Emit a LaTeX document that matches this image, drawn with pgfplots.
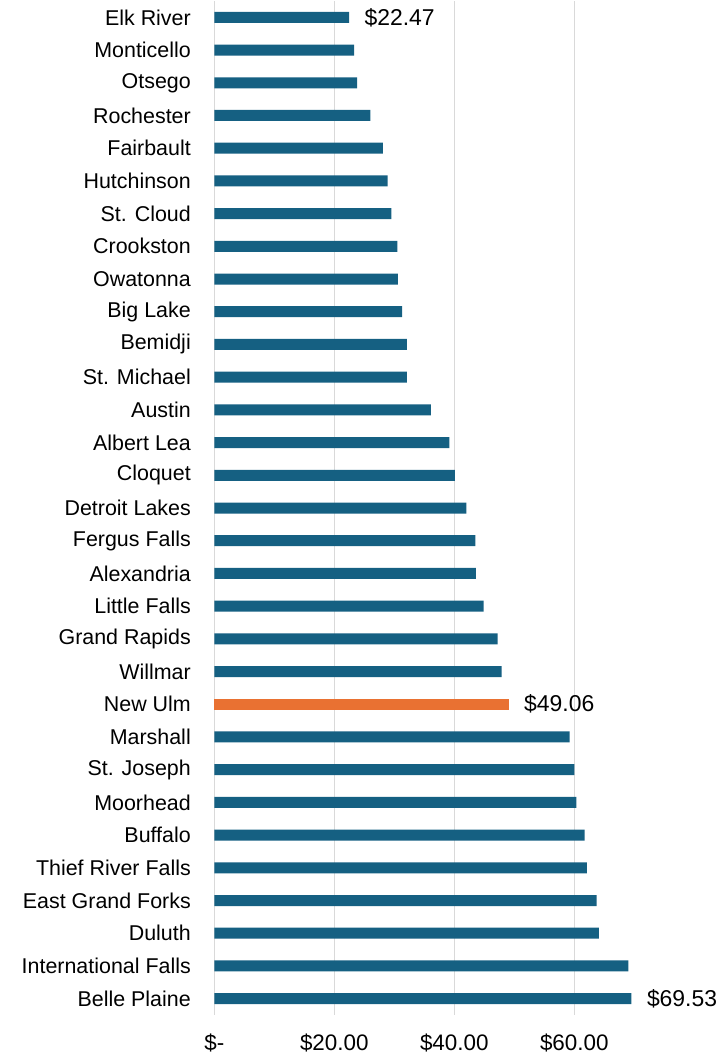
\documentclass[border=0pt]{standalone}
\usepackage{pgfplots}
\pgfplotsset{compat=1.18}
\usepackage{fontspec}
\setmainfont{Liberation Sans}
\definecolor{barblue}{HTML}{156082}
\definecolor{barorange}{HTML}{E97132}
\definecolor{gridgrey}{HTML}{D9D9D9}
\begin{document}
\begin{tikzpicture}
\path[use as bounding box] (-214.3bp,-47bp) rectangle (508.7bp,1015bp);
\begin{axis}[
  at={(0,0)}, anchor=south west,
  scale only axis,
  width=420bp, height=1014bp,
  xbar, bar width=11bp,
  xmin=0, xmax=70,
  ymin=-0.5, ymax=30.5,
  y dir=reverse,
  ytick={0,...,30},
  yticklabels={Elk River, Monticello, Otsego, Rochester, Fairbault, Hutchinson, St. Cloud, Crookston, Owatonna, Big Lake, Bemidji, St. Michael, Austin, Albert Lea, Cloquet, Detroit Lakes, Fergus Falls, Alexandria, Little Falls, Grand Rapids, Willmar, New Ulm, Marshall, St. Joseph, Moorhead, Buffalo, Thief River Falls, East Grand Forks, Duluth, International Falls, Belle Plaine},
  xtick={0,20,40,60},
  xticklabels={\$-, \$20.00, \$40.00, \$60.00},
  major tick length=0pt,
  axis line style={draw=none},
  xmajorgrids, ymajorgrids=false,
  grid style={gridgrey, line width=1.3bp},
  tick label style={text=black},
  yticklabel style={font=\fontsize{21.5}{24}\selectfont, xshift=-20bp},
  xticklabel style={font=\fontsize{22.5}{25}\selectfont, yshift=-15bp},
  clip=false,
  nodes near coords,
  point meta=explicit symbolic,
  nodes near coords style={font=\fontsize{23}{26}\selectfont, anchor=west, xshift=12bp, text=black},
]
\addplot[fill=barblue, draw=none, bar shift=0pt] coordinates {
(22.47,0) [\$22.47]
(23.3,1) []
(23.8,2) []
(26.0,3) []
(28.1,4) []
(28.9,5) []
(29.5,6) []
(30.5,7) []
(30.6,8) []
(31.3,9) []
(32.1,10) []
(32.1,11) []
(36.1,12) []
(39.2,13) []
(40.1,14) []
(42.0,15) []
(43.5,16) []
(43.6,17) []
(44.9,18) []
(47.2,19) []
(47.9,20) []
(59.2,22) []
(60.0,23) []
(60.35,24) []
(61.7,25) []
(62.1,26) []
(63.7,27) []
(64.1,28) []
(69.0,29) []
(69.53,30) [\$69.53]
};
\addplot[fill=barorange, draw=none, bar shift=0pt] coordinates {
(49.06,21) [\$49.06]
};
\end{axis}
\end{tikzpicture}
\end{document}
